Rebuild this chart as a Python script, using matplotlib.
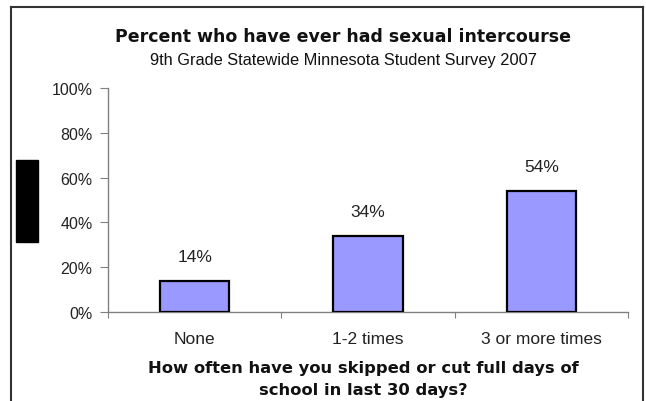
import matplotlib
matplotlib.use("Agg")
import matplotlib.pyplot as plt
from matplotlib.patches import Rectangle
from matplotlib.lines import Line2D

categories = ["None", "1-2 times", "3 or more times"]
values = [14, 34, 54]
labels = ["14%", "34%", "54%"]
yticks = [0, 20, 40, 60, 80, 100]
ytick_labels = ["0%", "20%", "40%", "60%", "80%", "100%"]
title = "Percent who have ever had sexual intercourse"
subtitle = "9th Grade Statewide Minnesota Student Survey 2007"
xlabel_lines = ["How often have you skipped or cut full days of",
                "school in last 30 days?"]

W, H = 646, 402
plt.rcParams['font.family'] = ['Liberation Sans', 'DejaVu Sans']
fig = plt.figure(figsize=(W / 100, H / 100), dpi=100)

def fx(px):
    return px / W

def fy(py):
    return 1 - py / H

ax = fig.add_axes([fx(108), fy(313), fx(628) - fx(108), fy(89) - fy(313)])
x = list(range(len(categories)))
ax.bar(x, values, width=0.4, color="#9999FF", edgecolor="black", linewidth=1.6, zorder=3)
ax.set_xlim(-0.5, len(categories) - 0.5)
ax.set_ylim(0, 100)
for xi, v, lab in zip(x, values, labels):
    ax.text(xi, v + 7.5, lab, ha="center", va="bottom", fontsize=12.5, color="#222222")

ax.set_yticks(yticks)
ax.set_yticklabels(ytick_labels, fontsize=11.5, color="#222222")
ax.set_xticks([-0.5, 0.5, 1.5, 2.5])
ax.set_xticklabels([])
ax.set_xticks(x, minor=True)
ax.set_xticklabels(categories, minor=True, fontsize=12.5, color="#222222")
ax.tick_params(axis="x", which="minor", length=0, pad=14)
ax.tick_params(axis="x", which="major", length=4.5, direction="out", color="#808080")
ax.tick_params(axis="y", length=6, direction="out", color="#808080", pad=5)
for s in ["top", "right"]:
    ax.spines[s].set_visible(False)
for s in ["left", "bottom"]:
    ax.spines[s].set_color("#808080")
    ax.spines[s].set_linewidth(1)

fig.text(fx(343), fy(37), title, ha="center", va="center", fontsize=12.5,
         fontweight="bold", family=['DejaVu Sans'], color="#111111")
fig.text(fx(343), fy(61), subtitle, ha="center", va="center", fontsize=11.8,
         color="#111111")
fig.text(fx(363), fy(369), xlabel_lines[0], ha="center", va="center", fontsize=11.8,
         fontweight="bold", family=['DejaVu Sans'], color="#111111")
fig.text(fx(363), fy(391), xlabel_lines[1], ha="center", va="center", fontsize=11.8,
         fontweight="bold", family=['DejaVu Sans'], color="#111111")

# frame (bottom edge cut off)
fig.add_artist(Line2D([fx(11), fx(11)], [fy(8), 0], color="#333333", lw=1.5, transform=fig.transFigure))
fig.add_artist(Line2D([fx(11), fx(643)], [fy(8), fy(8)], color="#333333", lw=1.5, transform=fig.transFigure))
fig.add_artist(Line2D([fx(643), fx(643)], [fy(8), 0], color="#333333", lw=1.5, transform=fig.transFigure))
fig.add_artist(Rectangle((fx(16), fy(243)), fx(38) - fx(16), fy(161) - fy(243),
                         color="black", transform=fig.transFigure))

fig.savefig("out.png", dpi=100)
